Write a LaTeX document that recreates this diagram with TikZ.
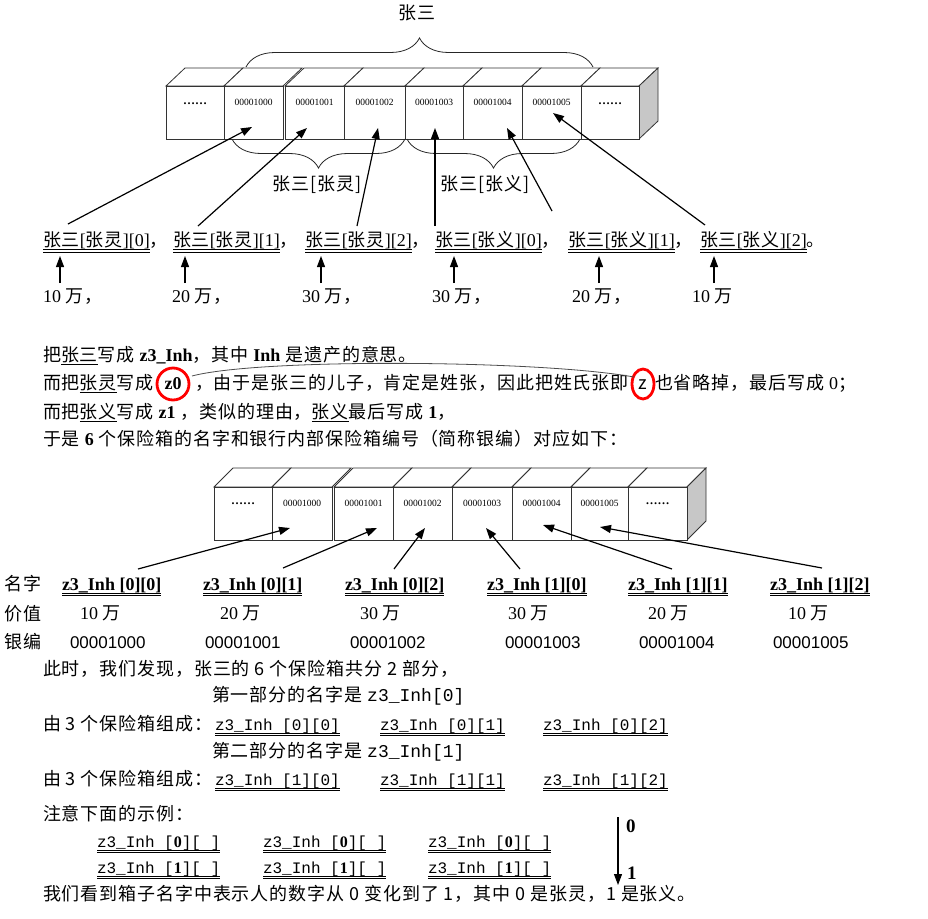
\documentclass[tikz,border=0pt]{standalone}
\usepackage{fontspec}
\setmainfont{Liberation Serif}
\newfontfamily\cjk[LetterSpace=5]{Noto Sans CJK SC}
\newfontfamily\monof{Liberation Mono}
\newfontfamily\sansf{Liberation Sans}
\usetikzlibrary{arrows.meta,decorations.pathreplacing,calc}
\newsavebox\ulbox
\newcommand\sul[1]{\sbox\ulbox{#1}\rlap{\rule[-3.8pt]{\wd\ulbox}{0.9pt}}\usebox\ulbox}
\newcommand\dul[1]{\sbox\ulbox{#1}\rlap{\rule[-3.8pt]{\wd\ulbox}{0.9pt}}\rlap{\rule[-6.3pt]{\wd\ulbox}{0.9pt}}\usebox\ulbox}
\newcommand\tm[1]{{\rmfamily#1}}
\newcommand\tb[1]{{\rmfamily\bfseries#1}}
\newcommand\mn[1]{{\monof#1}}
\begin{document}
\begin{tikzpicture}[x=1pt,y=-1pt,
  every node/.style={inner sep=0pt,outer sep=0pt},
  txt/.style={anchor=base west,font=\cjk\fontsize{18}{22}\selectfont},
  ctr/.style={anchor=base,font=\cjk\fontsize{18}{22}\selectfont},
  num/.style={font=\rmfamily\fontsize{9.5}{11}\selectfont},
  dots/.style={font=\rmfamily\bfseries\fontsize{12}{14}\selectfont},
  face/.style={draw=black!80,fill=white,line width=0.8pt},
  front/.style={face,anchor=south west,minimum height=53pt},
  side/.style={draw=black!80,fill=black!22,line width=0.8pt},
  arr/.style={-{Triangle[length=11pt,width=8pt]},line width=1.2pt},
  brc/.style={decorate,decoration={brace,amplitude=29pt},draw=black!85,line width=0.8pt},
  redc/.style={draw=red,line width=2.8pt},
  link/.style={draw=black!70,line width=0.8pt},
  nm/.style={anchor=base west,font=\rmfamily\bfseries\fontsize{18}{22}\selectfont},
  bank/.style={anchor=base west,font=\sansf\fontsize{17}{20}\selectfont},
  mono/.style={anchor=base west,font=\monof\fontsize{16}{20}\selectfont},
  lab/.style={anchor=base west,font=\rmfamily\bfseries\fontsize{19}{22}\selectfont}]
\fill[white] (0,0) rectangle (928,918);
\useasboundingbox (0,0) rectangle (928,918);

% ---------- first row of boxes ----------
\foreach \a/\b in {166/224,224/283,285/344,344/405,405/463,463/522,522/581,581/639}
  \draw[face] (\a,86) -- (\a+19,68) -- (\b+19,68) -- (\b,86) -- cycle;
\draw[side] (639,86) -- (658,68) -- (658,121) -- (639,139) -- cycle;
\foreach \n/\a/\b in {1/166/224,2/224/283,3/285/344,4/344/405,5/405/463,6/463/522,7/522/581,8/581/639}
  \node[front,minimum width={(\b-\a)*1pt}] (a\n) at (\a,139) {};
\node[dots] at ([yshift=9pt]a1.center) {……};
\node[num] at ([yshift=10pt]a2.center) {00001000};
\node[num] at ([yshift=10pt]a3.center) {00001001};
\node[num] at ([yshift=10pt]a4.center) {00001002};
\node[num] at ([yshift=10pt]a5.center) {00001003};
\node[num] at ([yshift=10pt]a6.center) {00001004};
\node[num] at ([yshift=10pt]a7.center) {00001005};
\node[dots] at ([yshift=9pt]a8.center) {……};

\draw[brc] (246,67) -- (593,67);
\draw[brc] (405,139) -- (232,139);
\draw[brc] (580,139) -- (407,139);
\node[ctr] (title) at (417,19) {张三};
\node[ctr] (bl1) at (317,190) {张三[张灵]};
\node[ctr] (bl2) at (485,190) {张三[张义]};

% ---------- labels row ----------
\node[txt] (L1) at (43,246.5) {\dul{张三\tm{[}张灵\tm{][0]}}，};
\node[txt] (L2) at (173,246.5) {\dul{张三\tm{[}张灵\tm{][1]}}，};
\node[txt] (L3) at (305,246.5) {\dul{张三\tm{[}张灵\tm{][2]}}，};
\node[txt] (L4) at (435,246.5) {\dul{张三\tm{[}张义\tm{][0]}}，};
\node[txt] (L5) at (568,246.5) {\dul{张三\tm{[}张义\tm{][1]}}，};
\node[txt] (L6) at (700,246.5) {\dul{张三\tm{[}张义\tm{][2]}}。};

\node[txt] (V1) at (43,302) {\tm{10 }万，};
\node[txt] (V2) at (172,302) {\tm{20 }万，};
\node[txt] (V3) at (302,302) {\tm{30 }万，};
\node[txt] (V4) at (432,302) {\tm{30 }万，};
\node[txt] (V5) at (572,302) {\tm{20 }万，};
\node[txt] (V6) at (692,302) {\tm{10 }万};

\draw[arr] ($(L1.base west)+(25,-22.5)$) -- ($(a2.center)+(-1.5,14.5)$);
\draw[arr] ($(L2.base west)+(25,-20.5)$) -- ($(a3.center)+(-7.5,15.5)$);
\draw[arr] ($(L3.base west)+(52,-20.5)$) -- ($(a4.center)+(3.5,15.5)$);
\draw[arr] ($(L4.base west)+(0,-20.5)$) -- ($(a5.center)+(1,15.5)$);
\draw[arr] ($(L5.base west)+(-16,-35.5)$) -- ($(a6.center)+(14.5,15.5)$);
\draw[arr] ($(L6.base west)+(5,-21.5)$) -- ($(a7.center)+(1.5,0.5)$);

\draw[arr] ($(V1.base west)+(17,-19)$) -- ($(L1.base west)+(17,9.5)$);
\draw[arr] ($(V2.base west)+(13,-19)$) -- ($(L2.base west)+(12,9.5)$);
\draw[arr] ($(V3.base west)+(19,-19)$) -- ($(L3.base west)+(16,9.5)$);
\draw[arr] ($(V4.base west)+(22,-19)$) -- ($(L4.base west)+(19,9.5)$);
\draw[arr] ($(V5.base west)+(27,-19)$) -- ($(L5.base west)+(31,9.5)$);
\draw[arr] ($(V6.base west)+(22,-19)$) -- ($(L6.base west)+(14,9.5)$);

% ---------- middle text ----------
\node[txt] (M1) at (43,361) {把\sul{张三}写成 \tb{z3\_Inh}，其中 \tb{Inh} 是遗产的意思。};
\node[txt] (M2a) at (43,389) {而把\sul{张灵}写成};
\node[anchor=base,font=\rmfamily\bfseries\fontsize{18}{22}\selectfont] (M2z0) at (173,389) {z0};
\node[txt] (M2b) at (195,389) {，由于是张三的儿子，肯定是姓张，因此把姓氏张即};
\node[anchor=base,font=\cjk\fontsize{18}{22}\selectfont] (M2z) at (643,389) {z};
\node[txt] (M2c) at (655,389) {也省略掉，最后写成 \tm{0}；};
\draw[redc] ($(M2z0.base)+(0,-5)$) ellipse [x radius=16pt,y radius=16pt];
\draw[redc] ($(M2z.base)+(0,-5)$) ellipse [x radius=11pt,y radius=15pt];
\draw[link] ($(M2z0.base)+(19,-13)$) .. controls (260,358) and (540,360) .. ($(M2z.base)+(-9,-12)$);
\node[txt] (M3) at (43,418) {而把\sul{张义}写成 \tb{z1} ，类似的理由，\sul{张义}最后写成 \tb{1}，};
\node[txt] (M4) at (43,445) {于是 \tb{6} 个保险箱的名字和银行内部保险箱编号（简称银编）对应如下：};

% ---------- second row of boxes ----------
\foreach \a/\b in {214/272,272/332,334/393,393/452,452/512,512/571,571/628,628/687}
  \draw[face] (\a,487) -- (\a+19,468) -- (\b+19,468) -- (\b,487) -- cycle;
\draw[side] (687,487) -- (706,468) -- (706,521) -- (687,540) -- cycle;
\foreach \n/\a/\b in {1/214/272,2/272/332,3/334/393,4/393/452,5/452/512,6/512/571,7/571/628,8/628/687}
  \node[front,minimum width={(\b-\a)*1pt}] (c\n) at (\a,540) {};
\node[dots] at ([yshift=10pt]c1.center) {……};
\node[num] at ([yshift=10pt]c2.center) {00001000};
\node[num] at ([yshift=10pt]c3.center) {00001001};
\node[num] at ([yshift=10pt]c4.center) {00001002};
\node[num] at ([yshift=10pt]c5.center) {00001003};
\node[num] at ([yshift=10pt]c6.center) {00001004};
\node[num] at ([yshift=10pt]c7.center) {00001005};
\node[dots] at ([yshift=10pt]c8.center) {……};

\node[txt] (r1) at (5,590) {名字};
\node[txt] (r2) at (5,620) {价值};
\node[txt] (r3) at (5,648) {银编};

\node[nm] (N1) at (62,590) {\dul{z3\_Inh [0][0]}};
\node[nm] (N2) at (203,590) {\dul{z3\_Inh [0][1]}};
\node[nm] (N3) at (345,590) {\dul{z3\_Inh [0][2]}};
\node[nm] (N4) at (487,590) {\dul{z3\_Inh [1][0]}};
\node[nm] (N5) at (628,590) {\dul{z3\_Inh [1][1]}};
\node[nm] (N6) at (770,590) {\dul{z3\_Inh [1][2]}};

\node[txt] (W1) at (80,619) {\tm{10 }万};
\node[txt] (W2) at (220,619) {\tm{20 }万};
\node[txt] (W3) at (360,619) {\tm{30 }万};
\node[txt] (W4) at (508,619) {\tm{30 }万};
\node[txt] (W5) at (648,619) {\tm{20 }万};
\node[txt] (W6) at (788,619) {\tm{10 }万};

\node[bank] (B1) at (70,648) {00001000};
\node[bank] (B2) at (205,648) {00001001};
\node[bank] (B3) at (350,648) {00001002};
\node[bank] (B4) at (505,648) {00001003};
\node[bank] (B5) at (639,648) {00001004};
\node[bank] (B6) at (773,648) {00001005};

\draw[arr] ($(N1.base west)+(76,-21)$) -- ($(c2.center)+(-12,14.5)$);
\draw[arr] ($(N2.base west)+(80,-22)$) -- ($(c3.center)+(13.5,14.5)$);
\draw[arr] ($(N3.base west)+(49,-21)$) -- ($(c4.center)+(2.5,14.5)$);
\draw[arr] ($(N4.base west)+(33,-21)$) -- ($(c5.center)+(4,14.5)$);
\draw[arr] ($(N5.base west)+(44,-21)$) -- ($(c6.center)+(1.5,11.5)$);
\draw[arr] ($(N6.base west)+(52,-22)$) -- ($(c7.center)+(0.5,13.5)$);

% ---------- bottom text ----------
\node[txt] (P1) at (43,675) {此时，我们发现，张三的 6 个保险箱共分 2 部分，};
\node[txt] (P2) at (212,701) {第一部分的名字是 \mn{z3\_Inh[0]}};
\node[txt] (P3) at (43,730) {由 3 个保险箱组成：};
\node[mono] (P3a) at (215,730) {\dul{z3\_Inh [0][0]}};
\node[mono] (P3b) at (380,730) {\dul{z3\_Inh [0][1]}};
\node[mono] (P3c) at (543,730) {\dul{z3\_Inh [0][2]}};
\node[txt] (P4) at (212,757) {第二部分的名字是 \mn{z3\_Inh[1]}};
\node[txt] (P5) at (43,785) {由 3 个保险箱组成：};
\node[mono] (P5a) at (215,785) {\dul{z3\_Inh [1][0]}};
\node[mono] (P5b) at (380,785) {\dul{z3\_Inh [1][1]}};
\node[mono] (P5c) at (543,785) {\dul{z3\_Inh [1][2]}};
\node[txt] (P6) at (43,820) {注意下面的示例：};
\node[mono] (Q1) at (97,847) {\dul{z3\_Inh [\tb{0}][ ]}};
\node[mono] (Q2) at (263,847) {\dul{z3\_Inh [\tb{0}][ ]}};
\node[mono] (Q3) at (428,847) {\dul{z3\_Inh [\tb{0}][ ]}};
\node[mono] (Q4) at (97,873) {\dul{z3\_Inh [\tb{1}][ ]}};
\node[mono] (Q5) at (263,873) {\dul{z3\_Inh [\tb{1}][ ]}};
\node[mono] (Q6) at (428,873) {\dul{z3\_Inh [\tb{1}][ ]}};
\node[lab] (k0) at (626,832) {0};
\node[lab] (k1) at (627,879) {1};
\draw[arr] ($(k0.base west)+(-8,-15)$) -- ($(k1.base west)+(-9,6)$);
\node[txt] (P7) at (43,900) {我们看到箱子名字中表示人的数字从 0 变化到了 1，其中 0 是张灵，1 是张义。};
\end{tikzpicture}
\end{document}
